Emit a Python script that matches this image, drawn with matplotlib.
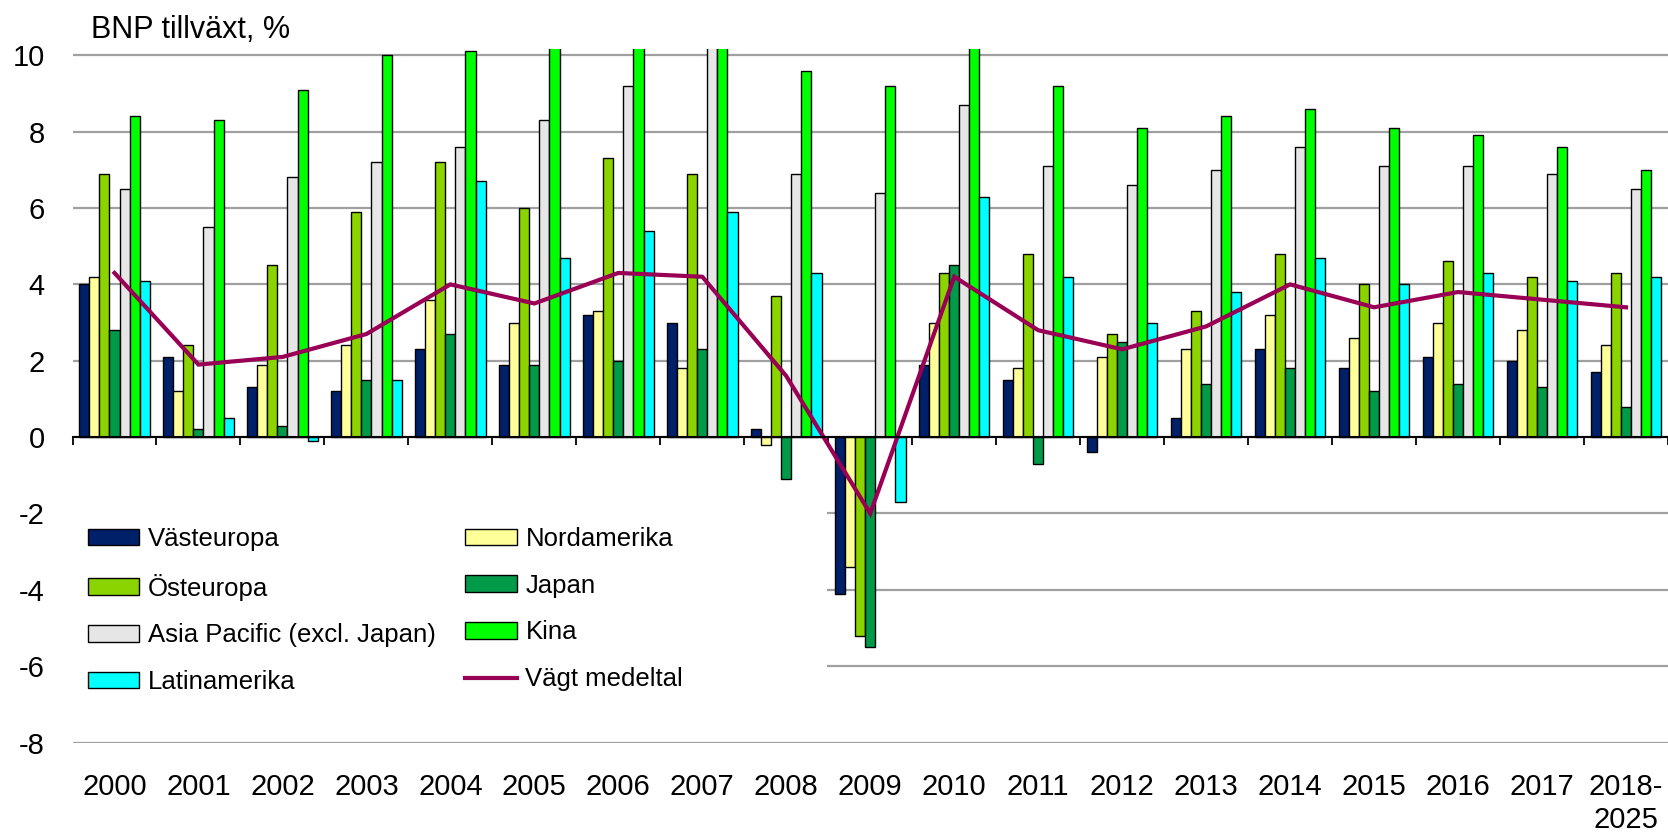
import matplotlib
matplotlib.use('Agg')
import matplotlib.pyplot as plt
import matplotlib.transforms as mtransforms
from matplotlib.patches import Rectangle
import numpy as np

plt.rcParams['font.family'] = ['Liberation Sans', 'DejaVu Sans']
plt.rcParams['axes.unicode_minus'] = False

# ---------------- data ----------------
years = ['2000', '2001', '2002', '2003', '2004', '2005', '2006', '2007', '2008',
         '2009', '2010', '2011', '2012', '2013', '2014', '2015', '2016', '2017',
         '2018-\n2025']
vasteuropa = [4.0, 2.1, 1.3, 1.2, 2.3, 1.9, 3.2, 3.0, 0.2, -4.1, 1.9, 1.5, -0.4, 0.5, 2.3, 1.8, 2.1, 2.0, 1.7]
nordamerika = [4.2, 1.2, 1.9, 2.4, 3.6, 3.0, 3.3, 1.8, -0.2, -3.4, 3.0, 1.8, 2.1, 2.3, 3.2, 2.6, 3.0, 2.8, 2.4]
osteuropa = [6.9, 2.4, 4.5, 5.9, 7.2, 6.0, 7.3, 6.9, 3.7, -5.2, 4.3, 4.8, 2.7, 3.3, 4.8, 4.0, 4.6, 4.2, 4.3]
japan = [2.8, 0.2, 0.3, 1.5, 2.7, 1.9, 2.0, 2.3, -1.1, -5.5, 4.5, -0.7, 2.5, 1.4, 1.8, 1.2, 1.4, 1.3, 0.8]
asia_pacific = [6.5, 5.5, 6.8, 7.2, 7.6, 8.3, 9.2, 10.4, 6.9, 6.4, 8.7, 7.1, 6.6, 7.0, 7.6, 7.1, 7.1, 6.9, 6.5]
kina = [8.4, 8.3, 9.1, 10.0, 10.1, 11.3, 12.7, 14.2, 9.6, 9.2, 10.4, 9.2, 8.1, 8.4, 8.6, 8.1, 7.9, 7.6, 7.0]
latinamerika = [4.1, 0.5, -0.1, 1.5, 6.7, 4.7, 5.4, 5.9, 4.3, -1.7, 6.3, 4.2, 3.0, 3.8, 4.7, 4.0, 4.3, 4.1, 4.2]
vagt_medeltal = [4.3, 1.9, 2.1, 2.7, 4.0, 3.5, 4.3, 4.2, 1.6, -2.0, 4.2, 2.8, 2.3, 2.9, 4.0, 3.4, 3.8, 3.6, 3.4]

series_names = ['Västeuropa', 'Nordamerika', 'Östeuropa', 'Japan',
                'Asia Pacific (excl. Japan)', 'Kina', 'Latinamerika']
series_values = [vasteuropa, nordamerika, osteuropa, japan, asia_pacific, kina, latinamerika]
series_colors = ['#00206A', '#FFFF99', '#8CD400', '#009A48', '#E6E6E6', '#00FF00', '#00FFFF']
line_name = 'Vägt medeltal'
line_color = '#990055'

# ---------------- figure ----------------
W, H = 1668, 832
fig = plt.figure(figsize=(W / 100, H / 100), dpi=100)
left_px, right_px = 72.5, 1668
top_px, bottom_px = 48.8, 742.6
ax = fig.add_axes([left_px / W, 1 - bottom_px / H, (right_px - left_px) / W, (bottom_px - top_px) / H])

x = np.arange(len(years))
bw = 0.12
bars = []
for i, (name, vals, col) in enumerate(zip(series_names, series_values, series_colors)):
    b = ax.bar(x + (i - 3) * bw, vals, width=bw, color=col, edgecolor='black',
               linewidth=1.0, label=name, zorder=2)
    bars.append(b)

line, = ax.plot(x, vagt_medeltal, color=line_color, lw=3.0, zorder=3,
                solid_joinstyle='miter', label=line_name)

ax.set_xlim(-0.5, len(years) - 0.5)
ax.set_ylim(-8, 10.17)
ax.set_yticks(np.arange(-8, 11, 2))
ax.set_yticklabels([str(v) for v in range(-8, 11, 2)])
ax.set_axisbelow(True)
ax.yaxis.grid(True, color='#A0A0A0', lw=1.6)
ax.xaxis.grid(False)

for s in ['left', 'right', 'top']:
    ax.spines[s].set_visible(False)
ax.spines['bottom'].set_position(('data', 0))
ax.spines['bottom'].set_linewidth(1.5)
ax.spines['bottom'].set_zorder(4)

ax.set_xticks(np.arange(-0.5, len(years), 1.0))
ax.set_xticklabels([])
ax.tick_params(axis='x', direction='out', length=6, width=1.3, color='black')
ax.tick_params(axis='y', length=0, pad=20, labelsize=21)

sec = ax.secondary_xaxis(0.0)
sec.set_xticks(x)
sec.set_xticklabels(years, fontsize=21)
sec.tick_params(length=0, pad=22)
sec.spines['bottom'].set_visible(False)

# white background behind the legend (hides grid lines there)
trans = mtransforms.blended_transform_factory(ax.transAxes, ax.transData)
ax.add_patch(Rectangle((0, -7.4), (827 - left_px) / (right_px - left_px), 5.75,
                       transform=trans, facecolor='white', edgecolor='none', zorder=1))

# legend (row-major order in two columns)
order_h = [bars[0], bars[2], bars[4], bars[6], bars[1], bars[3], bars[5], line]
order_l = [series_names[0], series_names[2], series_names[4], series_names[6],
           series_names[1], series_names[3], series_names[5], line_name]
leg = ax.legend(order_h, order_l, ncol=2, loc='upper left',
                bbox_to_anchor=(64.7 / W, 1 - 503.6 / H), bbox_transform=fig.transFigure,
                frameon=False, fontsize=18.5, handlelength=2.0, handleheight=0.6,
                handletextpad=0.35, columnspacing=1.13, labelspacing=0.89, borderpad=0.4)
leg.set_zorder(5)

fig.text(91 / W, 1 - 37.5 / H, 'BNP tillväxt, %', fontsize=22, va='baseline', ha='left')

fig.savefig('out.png', dpi=100)
